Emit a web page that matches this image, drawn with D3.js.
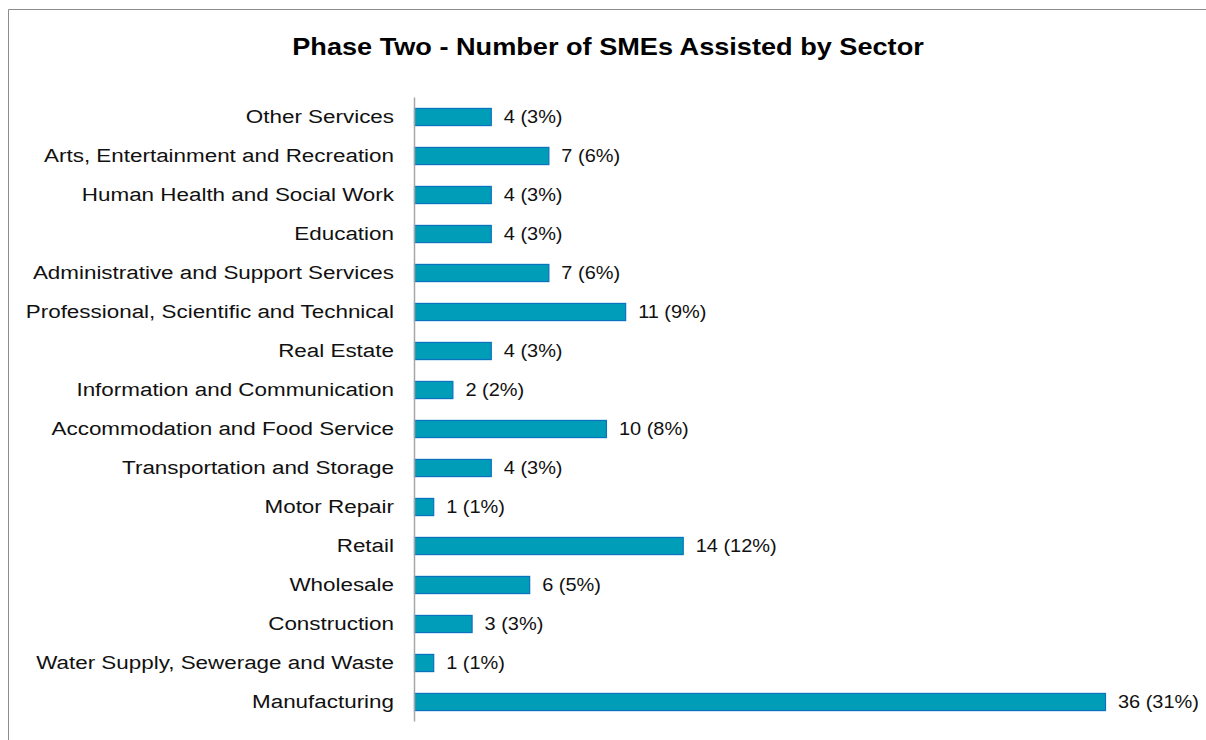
<!DOCTYPE html>
<html>
<head>
<meta charset="utf-8">
<script src="https://cdn.jsdelivr.net/npm/d3@7"></script>
<style>
  body { margin: 0; background: #fff; }
  svg { display: block; }
</style>
</head>
<body>
<div id="chart"></div>
<script>
// sectors top to bottom
const sectors = [
  "Other Services",
  "Arts, Entertainment and Recreation",
  "Human Health and Social Work",
  "Education",
  "Administrative and Support Services",
  "Professional, Scientific and Technical",
  "Real Estate",
  "Information and Communication",
  "Accommodation and Food Service",
  "Transportation and Storage",
  "Motor Repair",
  "Retail",
  "Wholesale",
  "Construction",
  "Water Supply, Sewerage and Waste",
  "Manufacturing"
];
const counts = [4, 7, 4, 4, 7, 11, 4, 2, 10, 4, 1, 14, 6, 3, 1, 36];
const shares = [3, 6, 3, 3, 6, 9, 3, 2, 8, 3, 1, 12, 5, 3, 1, 31];

const width = 1206;
const height = 740;
const margin = { top: 97, right: 101, bottom: 19, left: 414 };
const innerHeight = height - margin.top - margin.bottom;
const stretch = 1.18; // the original text is drawn wider than Arial
const font = "'Liberation Sans', Arial, sans-serif";

const data = sectors.map((s, i) => ({ sector: s, count: counts[i], share: shares[i] }));

const svg = d3.select("#chart").append("svg")
  .attr("width", width)
  .attr("height", height);

// chart frame
svg.append("path")
  .attr("d", `M8.5,${height} L8.5,9.5 L${width},9.5`)
  .attr("fill", "none")
  .attr("stroke", "#8c8c8c")
  .attr("stroke-width", 1);

svg.append("text")
  .attr("transform", `translate(608,55) scale(${stretch},1)`)
  .attr("text-anchor", "middle")
  .style("font-family", font)
  .style("font-size", "23px")
  .style("font-weight", "bold")
  .attr("fill", "#000")
  .text("Phase Two - Number of SMEs Assisted by Sector");

const g = svg.append("g")
  .attr("transform", `translate(${margin.left},${margin.top})`);

const y = d3.scaleBand()
  .domain(sectors)
  .range([0, innerHeight])
  .paddingInner(0.56)
  .paddingOuter(0.28);

const x = d3.scaleLinear()
  .domain([0, 36])
  .range([0, 1105 - margin.left]);

g.selectAll("rect")
  .data(data)
  .enter()
  .append("rect")
  .attr("x", 0.5)
  .attr("y", d => y(d.sector) + 0.5)
  .attr("width", d => x(d.count))
  .attr("height", y.bandwidth())
  .attr("fill", "#009db8")
  .attr("stroke", "#0a72bf")
  .attr("stroke-width", 1.2);

// left axis
const axis = g.append("g")
  .call(d3.axisLeft(y).tickSize(0).tickPadding(20));
axis.select(".domain").attr("stroke", "#a6a6a6").attr("stroke-width", 1.5);
axis.selectAll("text")
  .attr("x", -20 / stretch)
  .attr("transform", `scale(${stretch},1)`)
  .style("font-family", font)
  .style("font-size", "19px")
  .attr("fill", "#111");

// value labels
g.selectAll("text.value-label")
  .data(data)
  .enter()
  .append("text")
  .attr("class", "value-label")
  .attr("transform", d => `translate(${x(d.count) + 13},${y(d.sector) + y.bandwidth() / 2}) scale(1.05,1)`)
  .attr("dy", "0.35em")
  .style("font-family", font)
  .style("font-size", "19px")
  .attr("fill", "#111")
  .text(d => `${d.count} (${d.share}%)`);
</script>
</body>
</html>
